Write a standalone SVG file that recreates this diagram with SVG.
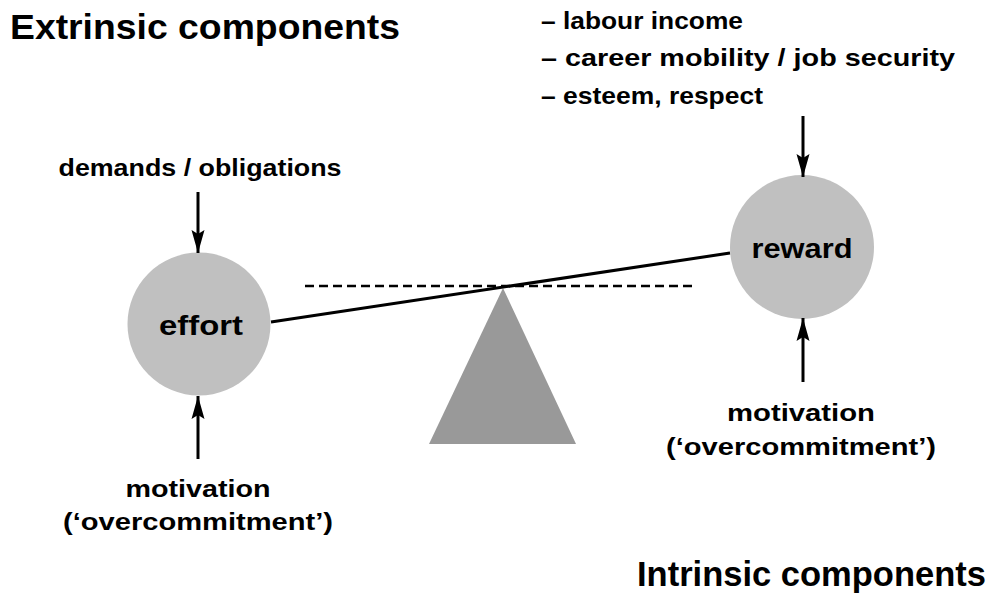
<svg xmlns="http://www.w3.org/2000/svg" width="994" height="599" viewBox="0 0 994 599">
<style>
  text { font-family: "Liberation Sans", Arial, Helvetica, sans-serif; font-weight: bold; fill: #000; }
  .title { font-size: 35px; }
  .lbl { font-size: 24.5px; }
  .node { font-size: 28px; }
  .circle { fill: #c0c0c0; }
  .arrow { stroke: #000; stroke-width: 3; fill: none; marker-end: url(#ah); }
</style>
<defs>
  <marker id="ah" markerUnits="userSpaceOnUse" markerWidth="26" markerHeight="16" viewBox="-23 -8 26 16" refX="0" refY="0" orient="auto">
    <path d="M0,0 L-23,-6.5 L-19,0 L-23,6.5 Z" fill="#000"/>
  </marker>
</defs>
<rect width="994" height="599" fill="#fff"/>

<g id="titles">
  <text class="title" x="10" y="39" textLength="390" lengthAdjust="spacingAndGlyphs">Extrinsic components</text>
  <text class="title" x="637" y="586" textLength="349" lengthAdjust="spacingAndGlyphs">Intrinsic components</text>
</g>

<g id="reward-items">
  <text class="lbl" x="541" y="29" textLength="202" lengthAdjust="spacingAndGlyphs">– labour income</text>
  <text class="lbl" x="541" y="66" textLength="414" lengthAdjust="spacingAndGlyphs">– career mobility / job security</text>
  <text class="lbl" x="541" y="104" textLength="222" lengthAdjust="spacingAndGlyphs">– esteem, respect</text>
</g>

<g id="demands">
  <text class="lbl" x="200" y="176" text-anchor="middle" textLength="283" lengthAdjust="spacingAndGlyphs">demands / obligations</text>
</g>

<g id="balance">
  <line x1="305" y1="286" x2="695" y2="286" stroke="#000" stroke-width="2.3" stroke-dasharray="9 5"/>
  <polygon points="503,288 576,444 429,444" fill="#999999"/>
</g>

<g id="effort">
  <circle class="circle" cx="199" cy="324" r="71.5"/>
  <text class="node" x="201" y="335" text-anchor="middle" textLength="84" lengthAdjust="spacingAndGlyphs">effort</text>
</g>

<g id="reward">
  <circle class="circle" cx="802" cy="247" r="72"/>
  <text class="node" x="802" y="258" text-anchor="middle" textLength="101" lengthAdjust="spacingAndGlyphs">reward</text>
</g>

<g id="motivation-left">
  <text class="lbl" x="198" y="497" text-anchor="middle" textLength="145" lengthAdjust="spacingAndGlyphs">motivation</text>
  <text class="lbl" x="198" y="530" text-anchor="middle" textLength="270" lengthAdjust="spacingAndGlyphs">(‘overcommitment’)</text>
</g>

<g id="motivation-right">
  <text class="lbl" x="801" y="421" text-anchor="middle" textLength="148" lengthAdjust="spacingAndGlyphs">motivation</text>
  <text class="lbl" x="801" y="455" text-anchor="middle" textLength="270" lengthAdjust="spacingAndGlyphs">(‘overcommitment’)</text>
</g>

<g id="connectors">
  <line x1="271" y1="322" x2="730" y2="253" stroke="#000" stroke-width="3"/>
  <path class="arrow" d="M198,192 L198,253"/>
  <path class="arrow" d="M198,459 L198,396"/>
  <path class="arrow" d="M803,116 L803,177"/>
  <path class="arrow" d="M803,382 L803,318"/>
</g>
</svg>
